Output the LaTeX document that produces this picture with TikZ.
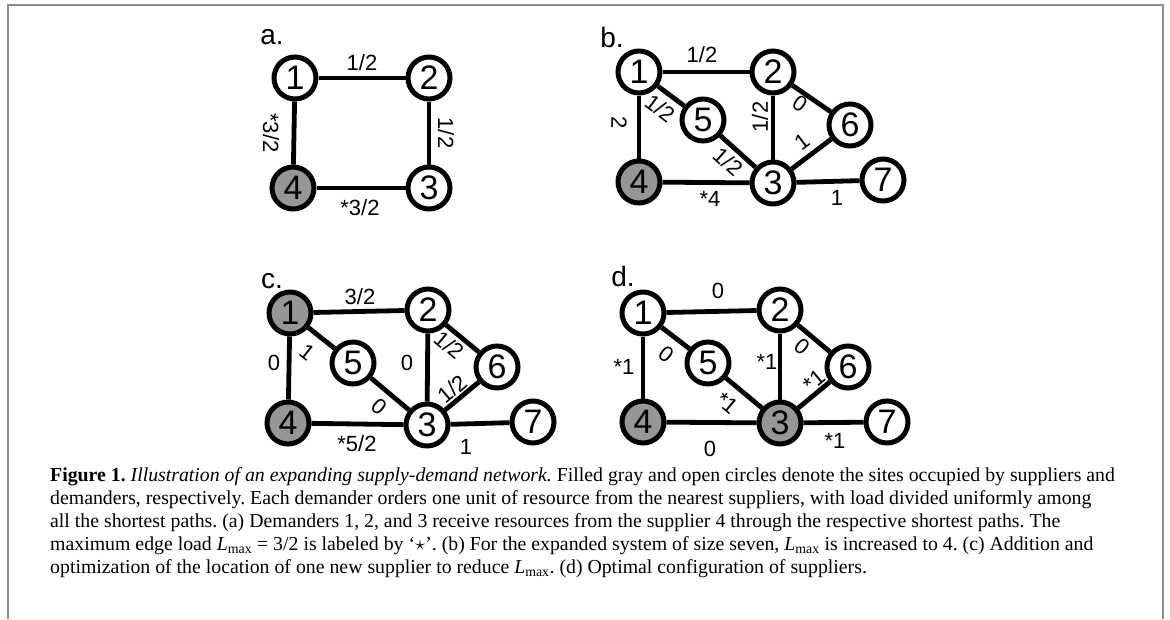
\documentclass[tikz,border=0pt]{standalone}
\usepackage{fontspec}
\setmainfont{Liberation Serif}
\newfontfamily\arialf{Liberation Sans}
\definecolor{supgray}{RGB}{150,150,153}
\definecolor{framegray}{RGB}{140,140,140}
\newcommand{\Lmx}{\textit{L}\textsubscript{max}}
\frenchspacing
\tikzset{
  site/.style={circle, draw=black, line width=5pt, fill=white, minimum size=42pt, inner sep=0pt,
    font=\arialf\fontsize{34}{34}\selectfont},
  sup/.style={site, fill=supgray},
  link/.style={line width=4.8pt},
  lbl/.style={font=\arialf\fontsize{22}{22}\selectfont, inner sep=0pt},
  panel/.style={font=\arialf\fontsize{28}{28}\selectfont, inner sep=0pt},
}
\begin{document}
\begin{tikzpicture}[x=1pt,y=-1pt]
\useasboundingbox (0,0) rectangle (1170,619);
\draw[framegray, line width=2pt] (8,619) -- (8,5) -- (1163,5) -- (1163,619);

% ---------- panel a
\node[panel] (pa) at (272,37) {a.};
\node[site] (a1) at (295,78) {1};
\node[site] (a2) at (429,78) {2};
\node[site] (a3) at (429,188) {3};
\node[sup]  (a4) at (293,188) {4};
\draw[link] (a1) -- (a2);
\draw[link] (a2) -- (a3);
\draw[link] (a1) -- (a4);
\draw[link] (a4) -- (a3);
\node[lbl] (la12) at (362,63) {1/2};
\node[lbl, rotate=-90] (la14) at (271,133) {*3/2};
\node[lbl, rotate=-90] (la23) at (446,133) {1/2};
\node[lbl] (la43) at (360,208) {*3/2};

% ---------- panel b
\node[panel] (pb) at (612,37) {b.};
\node[site] (b1) at (639,72) {1};
\node[site] (b2) at (773,72) {2};
\node[site] (b5) at (703,120) {5};
\node[site] (b6) at (850,125) {6};
\node[sup]  (b4) at (639,182) {4};
\node[site] (b3) at (773,183) {3};
\node[site] (b7) at (883,180) {7};
\draw[link] (b1) -- (b2);
\draw[link] (b1) -- (b4);
\draw[link] (b1) -- (b5);
\draw[link] (b5) -- (b3);
\draw[link] (b2) -- (b3);
\draw[link] (b2) -- (b6);
\draw[link] (b3) -- (b6);
\draw[link] (b4) -- (b3);
\draw[link] (b3) -- (b7);
\node[lbl] (lb12) at (702,55) {1/2};
\node[lbl, rotate=-90] (lb14) at (619,123) {2};
\node[lbl, rotate=-37] (lb15) at (660,108) {1/2};
\node[lbl, rotate=-42] (lb53) at (728,162) {1/2};
\node[lbl, rotate=90] (lb23) at (760,117) {1/2};
\node[lbl, rotate=-34] (lb26) at (800,104) {0};
\node[lbl, rotate=37] (lb36) at (802,142) {1};
\node[lbl] (lb43) at (710,199) {*4};
\node[lbl] (lb37) at (837,198) {1};

% ---------- panel c
\node[panel] (pc) at (272,281) {c.};
\node[sup]  (c1) at (290,313) {1};
\node[site] (c2) at (428,310) {2};
\node[site] (c5) at (353,363) {5};
\node[site] (c6) at (497,367) {6};
\node[sup]  (c4) at (288,423) {4};
\node[site] (c3) at (427,425) {3};
\node[site] (c7) at (533,422) {7};
\draw[link] (c1) -- (c2);
\draw[link] (c1) -- (c4);
\draw[link] (c1) -- (c5);
\draw[link] (c5) -- (c3);
\draw[link] (c2) -- (c3);
\draw[link] (c2) -- (c6);
\draw[link] (c3) -- (c6);
\draw[link] (c4) -- (c3);
\draw[link] (c3) -- (c7);
\node[lbl] (lc12) at (360,297) {3/2};
\node[lbl] (lc14) at (274,363) {0};
\node[lbl, rotate=-38] (lc15) at (307,352) {1};
\node[lbl] (lc23) at (407,363) {0};
\node[lbl, rotate=-40] (lc26) at (449,345) {1/2};
\node[lbl, rotate=40] (lc36) at (452,389) {1/2};
\node[lbl, rotate=-40] (lc53) at (379,407) {0};
\node[lbl] (lc43) at (357,444) {*5/2};
\node[lbl] (lc37) at (466,447) {1};

% ---------- panel d
\node[panel] (pd) at (623,276) {d.};
\node[site] (d1) at (643,313) {1};
\node[site] (d2) at (780,310) {2};
\node[site] (d5) at (708,363) {5};
\node[site] (d6) at (848,367) {6};
\node[sup]  (d4) at (643,422) {4};
\node[sup]  (d3) at (780,423) {3};
\node[site] (d7) at (887,422) {7};
\draw[link] (d1) -- (d2);
\draw[link] (d1) -- (d4);
\draw[link] (d1) -- (d5);
\draw[link] (d5) -- (d3);
\draw[link] (d2) -- (d3);
\draw[link] (d2) -- (d6);
\draw[link] (d3) -- (d6);
\draw[link] (d4) -- (d3);
\draw[link] (d3) -- (d7);
\node[lbl] (ld12) at (718,291) {0};
\node[lbl] (ld14) at (624,367) {*1};
\node[lbl, rotate=-38] (ld15) at (666,354) {0};
\node[lbl] (ld23) at (767,362) {*1};
\node[lbl, rotate=-40] (ld26) at (802,347) {0};
\node[lbl, rotate=40] (ld36) at (814,381) {*1};
\node[lbl, rotate=-40] (ld53) at (727,403) {*1};
\node[lbl] (ld43) at (710,449) {0};
\node[lbl] (ld37) at (835,441) {*1};

% ---------- caption
\node[anchor=north west, align=left, inner sep=0pt, font=\fontsize{19.8}{23}\selectfont] (cap) at (50,467)
{\textbf{Figure 1.} \textit{Illustration of an expanding supply-demand network.} Filled gray and open circles denote the sites occupied by suppliers and\\
demanders, respectively. Each demander orders one unit of resource from the nearest suppliers, with load divided uniformly among\\
all the shortest paths. (a) Demanders 1, 2, and 3 receive resources from the supplier 4 through the respective shortest paths. The\\
maximum edge load \Lmx{} = 3/2 is labeled by `$\star$'. (b) For the expanded system of size seven, \Lmx{} is increased to 4. (c) Addition and\\
optimization of the location of one new supplier to reduce \Lmx. (d) Optimal configuration of suppliers.};
\end{tikzpicture}
\end{document}
